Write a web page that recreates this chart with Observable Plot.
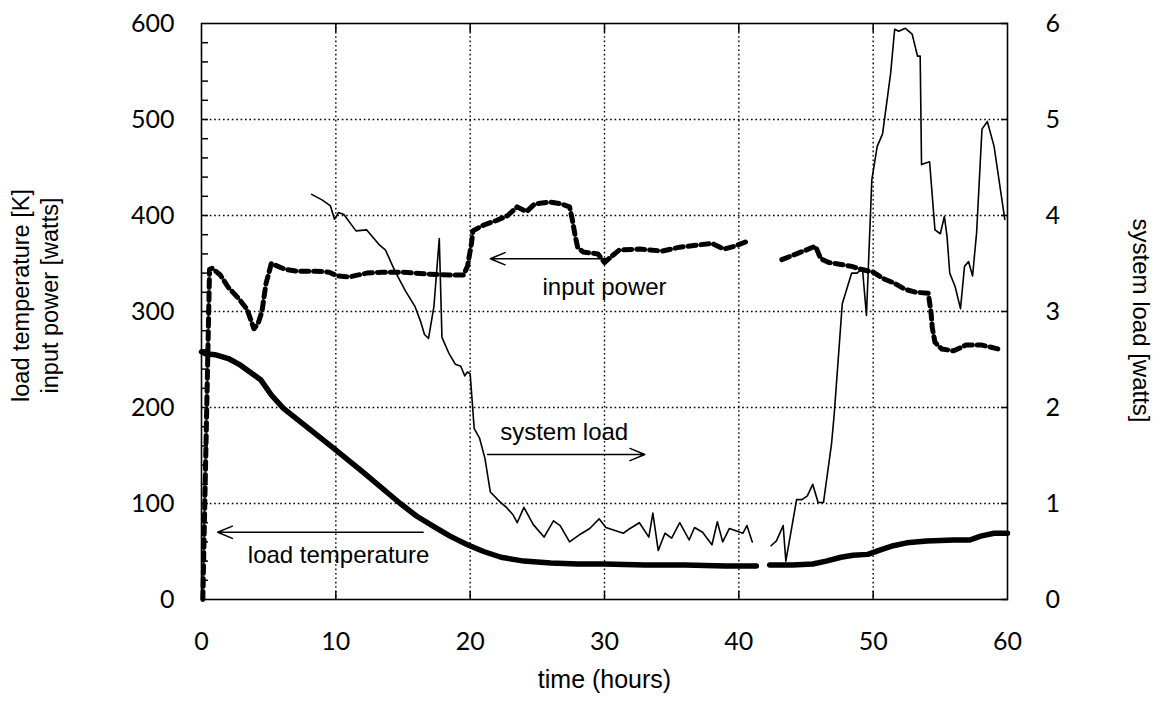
<!DOCTYPE html>
<html><head><meta charset="utf-8">
<script src="https://cdn.jsdelivr.net/npm/d3@7"></script>
<script src="https://cdn.jsdelivr.net/npm/@observablehq/plot@0.6"></script>
<style>html,body{margin:0;padding:0;background:#fff;}</style>
</head><body><div id="chart"></div>
<script>
// ---- tick labels / positions ----
const timeTicks = [0, 10, 20, 30, 40, 50, 60];
const gridTimes = [10, 20, 30, 40, 50];
const leftTicks = [0, 100, 200, 300, 400, 500, 600];
const gridValues = [100, 200, 300, 400, 500];
const leftMinorTicks = [20, 40, 60, 80, 100, 120, 140, 160, 180, 200, 220, 240, 260, 280, 300, 320, 340, 360, 380, 400, 420, 440, 460, 480, 500, 520, 540, 560, 580];
const rightTickLabels = [0, 1, 2, 3, 4, 5, 6];

// ---- series: [time (hours), value] ; null = gap in record ----
const loadTemperature = [ // K, left axis
  [0, 258], [0.3, 256], [1.0, 255], [2.0, 251], [2.8, 245], [3.6, 237], [4.4, 229], [5.2, 213],
  [6.1, 199], [8, 178], [9.8, 158], [12, 133], [14.8, 100], [16, 87], [17.3, 76], [18.5, 66],
  [19.8, 57], [21, 50], [22.3, 44], [24, 40], [26, 38], [28, 37], [30, 37], [33, 36], [36, 36],
  [39, 35], [41.3, 35], [41.8, null],
  [42.3, 36], [44, 36], [45.5, 37], [46.5, 40], [47.6, 44], [48.5, 46], [49.6, 47], [50.6, 52],
  [51.5, 56], [52.5, 59], [54, 61], [56, 62], [57.2, 62], [58, 66], [59, 69], [60, 69]
];

const inputPower = [ // watts, left axis
  [0.1, 0], [0.6, 344], [0.8, 345], [1.4, 338], [2.0, 325], [2.8, 313], [3.4, 302], [3.7, 290],
  [3.9, 282], [4.2, 287], [4.5, 300], [4.8, 329], [5.2, 350], [6.2, 344], [7.1, 342], [8.5, 342],
  [9.5, 341], [10.1, 337], [11, 336], [12.3, 340], [13.5, 341], [15, 341], [16.8, 339], [18.5, 338],
  [19.5, 338], [19.8, 347], [20.1, 371], [20.2, 384], [21, 390], [22, 395], [22.8, 400], [23.5, 409],
  [24.2, 404], [24.8, 412], [25.9, 414], [26.8, 412], [27.4, 409], [27.6, 396], [27.8, 380], [28, 367],
  [28.4, 362], [29.5, 360], [30.0, 351], [30.4, 356], [31.1, 364], [32.6, 365], [34.3, 363], [35.6, 367],
  [36.8, 369], [38, 371], [38.9, 365], [39.7, 368], [40.6, 373], [41.8, null],
  [43.2, 354], [44.1, 359], [45.0, 364], [45.7, 368], [46.1, 355], [46.7, 351], [47.6, 349], [48.4, 347],
  [49.1, 344], [50.0, 341], [50.8, 334], [51.5, 330], [52.4, 323], [53.2, 320], [54.1, 319], [54.3, 300],
  [54.4, 283], [54.6, 268], [55.1, 261], [56.0, 259], [56.9, 265], [58.1, 265], [59.3, 261]
];

const systemLoad = [ // watts, right axis
  [8.2, 4.22], [9.0, 4.16], [9.6, 4.10], [9.9, 3.96], [10.2, 4.03], [10.6, 4.01], [11.5, 3.84], [12.3, 3.85],
  [13.2, 3.70], [13.7, 3.64], [14.4, 3.42], [15.2, 3.21], [15.9, 3.05], [16.3, 2.90], [16.6, 2.76], [16.9, 2.72],
  [17.3, 3.05], [17.7, 3.76], [17.9, 2.73], [18.4, 2.57], [18.9, 2.45], [19.3, 2.43], [19.6, 2.33], [19.8, 2.37],
  [20.0, 2.35], [20.3, 1.78], [20.7, 1.68], [21.1, 1.47], [21.5, 1.12], [22.2, 1.02], [22.7, 0.96], [23.2, 0.88],
  [23.5, 0.80], [24.0, 0.96], [24.7, 0.78], [25.5, 0.65], [26.2, 0.82], [26.7, 0.77], [27.4, 0.60], [28.2, 0.68],
  [28.9, 0.74], [29.6, 0.84], [30.1, 0.75], [31.4, 0.69], [31.9, 0.74], [32.6, 0.80], [33.3, 0.65], [33.6, 0.90],
  [34.0, 0.51], [34.5, 0.69], [35.0, 0.64], [35.6, 0.80], [36.3, 0.62], [36.7, 0.75], [37.3, 0.70], [38.0, 0.57],
  [38.4, 0.81], [38.8, 0.60], [39.3, 0.74], [40.3, 0.69], [40.6, 0.77], [41.0, 0.60], [41.7, null],
  [42.4, 0.56], [42.8, 0.61], [43.3, 0.77], [43.5, 0.40], [44.3, 1.04], [44.7, 1.04], [45.1, 1.08], [45.5, 1.20],
  [45.9, 1.01], [46.3, 1.01], [46.9, 1.62], [47.1, 1.93], [47.7, 3.08], [48.4, 3.40], [48.8, 3.40], [49.2, 3.45],
  [49.5, 2.96], [49.9, 4.37], [50.3, 4.72], [50.7, 4.85], [51.3, 5.48], [51.6, 5.94], [51.9, 5.92], [52.4, 5.95],
  [52.9, 5.89], [53.3, 5.66], [53.5, 5.66], [53.6, 4.53], [54.2, 4.56], [54.6, 3.85], [55.0, 3.81], [55.3, 3.99],
  [55.5, 3.78], [55.7, 3.40], [56.1, 3.26], [56.5, 3.03], [56.8, 3.47], [57.1, 3.52], [57.4, 3.37], [57.7, 3.82],
  [58.1, 4.90], [58.5, 4.98], [59.0, 4.72], [59.8, 3.96]
];

// ---- annotations ----
const annotationLabels = ["input power", "system load", "load temperature"];
const annotationLabelTime = [30.0, 27.0, 10.2];
const annotationLabelValue = [325, 174, 46];
const arrowFromTime = [30.5, 21.3, 16.5];
const arrowToTime = [21.5, 33.0, 1.2];
const arrowValue = [355, 151, 70];

const annotations = annotationLabels.map((label, i) => ({
  label, lt: annotationLabelTime[i], lv: annotationLabelValue[i],
  t1: arrowFromTime[i], t2: arrowToTime[i], v: arrowValue[i]
}));

const SCALE = 100; // right axis watts -> left axis units
const tickFont = "Lato, 'DejaVu Sans', sans-serif";
const textFont = "'Liberation Sans', Arial, sans-serif";
const hide = () => "";

const chart = Plot.plot({
  width: 1160,
  height: 702,
  marginLeft: 201,
  marginRight: 153,
  marginTop: 23,
  marginBottom: 103,
  x: {domain: [0, 60]},
  y: {domain: [0, 600]},
  style: {background: "white", fontFamily: textFont, color: "black"},
  marks: [
    Plot.gridX(gridTimes, {stroke: "black", strokeOpacity: 1, strokeWidth: 1.4, strokeDasharray: "1.6,2.8"}),
    Plot.gridY(gridValues, {stroke: "black", strokeOpacity: 1, strokeWidth: 1.4, strokeDasharray: "1.6,2.8"}),
    // inward tick marks
    Plot.axisY(leftMinorTicks, {anchor: "left", tickSize: 7, dx: 7, tickFormat: hide, label: null, strokeWidth: 1.5}),
    Plot.axisY(rightTickLabels.map(d => d * SCALE), {anchor: "right", tickSize: 7, dx: -7, tickFormat: hide, label: null, strokeWidth: 1.5}),
    Plot.axisX(gridTimes, {anchor: "bottom", tickSize: 8, dy: -8, tickFormat: hide, label: null, strokeWidth: 1.5}),
    Plot.axisX(gridTimes, {anchor: "top", tickSize: 8, dy: 8, tickFormat: hide, label: null, strokeWidth: 1.5}),
    // tick labels
    Plot.axisY(leftTicks, {anchor: "left", tickSize: 0, tickPadding: 27, fontSize: 25, fontFamily: tickFont, label: null}),
    Plot.axisY(rightTickLabels.map(d => d * SCALE), {anchor: "right", tickSize: 0, tickPadding: 38, tickFormat: d => d / SCALE, fontSize: 25, fontFamily: tickFont, label: null}),
    Plot.axisX(timeTicks, {anchor: "bottom", tickSize: 0, tickPadding: 33, fontSize: 25, fontFamily: tickFont, label: null}),
    Plot.frame({stroke: "black", strokeWidth: 1.6}),
    // series
    Plot.line(systemLoad, {x: d => d[0], y: d => d[1] == null ? null : d[1] * SCALE, stroke: "black", strokeWidth: 1.6}),
    Plot.line(loadTemperature, {x: d => d[0], y: d => d[1], stroke: "black", strokeWidth: 5.5}),
    Plot.line(inputPower, {x: d => d[0], y: d => d[1], stroke: "black", strokeWidth: 5, strokeDasharray: "8,5"}),
    // annotations
    Plot.arrow(annotations, {x1: "t1", y1: "v", x2: "t2", y2: "v", stroke: "black", strokeWidth: 1.5, headLength: 16, headAngle: 45}),
    Plot.text(annotations, {x: "lt", y: "lv", text: "label", fontSize: 24, fontFamily: textFont, fill: "black"}),
    // axis titles
    Plot.text(["load temperature [K]\ninput power [watts]"], {frameAnchor: "left", textAnchor: "middle", dx: -167, dy: -16, rotate: -90, fontSize: 23.5, lineHeight: 1.2, fontFamily: textFont, fill: "black"}),
    Plot.text(["system load [watts]"], {frameAnchor: "right", textAnchor: "middle", dx: 133, dy: 9, rotate: 90, fontSize: 24, fontFamily: textFont, fill: "black"}),
    Plot.text(["time (hours)"], {frameAnchor: "bottom", textAnchor: "middle", dy: 88, fontSize: 25, fontFamily: textFont, fill: "black"})
  ]
});
document.getElementById("chart").appendChild(chart);
</script>
</body></html>
